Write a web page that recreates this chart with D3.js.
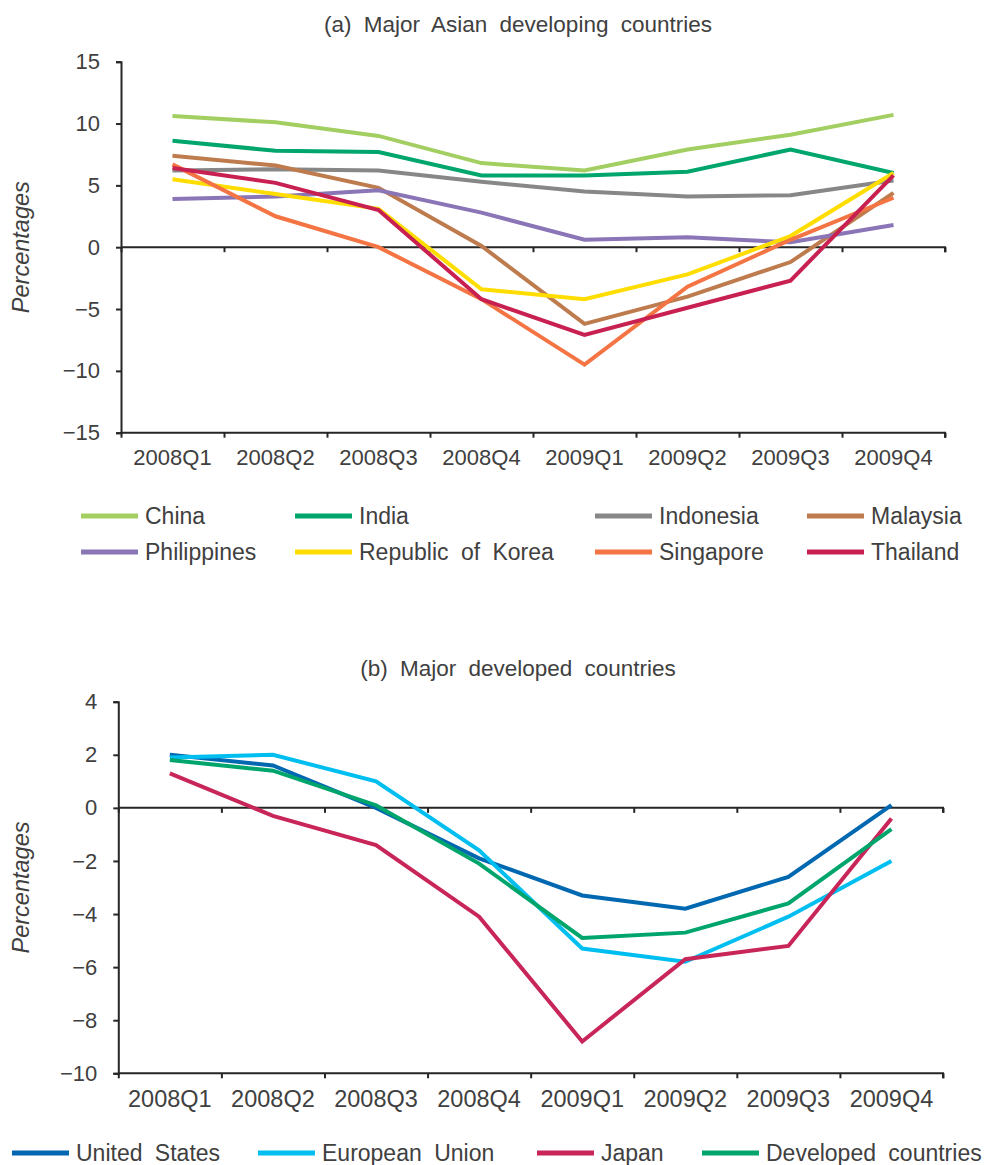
<!DOCTYPE html>
<html>
<head>
<meta charset="utf-8">
<script src="https://cdn.jsdelivr.net/npm/d3@7"></script>
<style>
  body { margin: 0; background: #fff; }
  text { font-family: "Liberation Sans", Arial, sans-serif; fill: #404040; }
</style>
</head>
<body>
<script>
const W = 990, H = 1165;

// categories
const quarters = ['2008Q1', '2008Q2', '2008Q3', '2008Q4', '2009Q1', '2009Q2', '2009Q3', '2009Q4'];

// (a) Asian developing countries, growth in %
const china       = [10.6, 10.1, 9.0, 6.8, 6.2, 7.9, 9.1, 10.7];
const india       = [8.6, 7.8, 7.7, 5.8, 5.8, 6.1, 7.9, 6.0];
const indonesia   = [6.2, 6.3, 6.2, 5.3, 4.5, 4.1, 4.2, 5.4];
const malaysia    = [7.4, 6.6, 4.8, 0.1, -6.2, -4.0, -1.2, 4.4];
const philippines = [3.9, 4.1, 4.6, 2.8, 0.6, 0.8, 0.4, 1.8];
const korea       = [5.5, 4.3, 3.1, -3.4, -4.2, -2.2, 0.9, 6.0];
const singapore   = [6.7, 2.5, 0.0, -4.2, -9.5, -3.2, 0.6, 4.0];
const thailand    = [6.4, 5.2, 3.0, -4.2, -7.1, -4.9, -2.7, 5.8];
const asiaTicks   = [-15, -10, -5, 0, 5, 10, 15];

// (b) developed countries, growth in %
const us        = [2.0, 1.6, 0.0, -1.9, -3.3, -3.8, -2.6, 0.1];
const eu        = [1.9, 2.0, 1.0, -1.6, -5.3, -5.8, -4.1, -2.0];
const japan     = [1.3, -0.3, -1.4, -4.1, -8.8, -5.7, -5.2, -0.4];
const developed = [1.8, 1.4, 0.1, -2.1, -4.9, -4.7, -3.6, -0.8];
const devTicks  = [-10, -8, -6, -4, -2, 0, 2, 4];

const svg = d3.select('body').append('svg')
    .attr('width', W)
    .attr('height', H);

function drawPanel(p) {
    const x = d3.scaleBand().domain(quarters).range([p.left, p.right]);
    const xEdge = d3.scaleLinear().domain([0, quarters.length]).range([p.left, p.right]);
    const y = d3.scaleLinear().domain(p.domain).range([p.bottom, p.top]);
    const g = svg.append('g');

    // title
    g.append('text')
        .attr('x', 518).attr('y', p.titleY)
        .attr('text-anchor', 'middle')
        .style('font-size', '22.5px')
        .style('word-spacing', '6px')
        .text(p.title);

    // y axis title
    g.append('text')
        .attr('transform', `translate(29,${(p.top + p.bottom) / 2}) rotate(-90)`)
        .attr('text-anchor', 'middle')
        .style('font-size', '23.5px')
        .style('font-style', 'italic')
        .text('Percentages');

    // y axis
    const ya = g.append('g')
        .attr('transform', `translate(${p.left},0)`)
        .call(d3.axisLeft(y).tickValues(p.ticks).tickSize(5).tickPadding(16));
    ya.selectAll('text').style('font-size', '22px').style('fill', '#404040')
        .style('font-family', '"Liberation Sans", Arial, sans-serif');

    // bottom axis + zero axis, ticks on category edges
    [p.domain[0], 0].forEach(v => {
        const xa = g.append('g')
            .attr('transform', `translate(0,${y(v)})`)
            .call(d3.axisBottom(xEdge).ticks(quarters.length).tickSize(5).tickFormat(''));
        xa.select('.domain').attr('d', `M${p.left},0H${p.right}V5`);
    });

    // category labels
    const lab = g.append('g')
        .attr('transform', `translate(0,${p.bottom})`)
        .call(d3.axisBottom(x).tickSize(0).tickPadding(17));
    lab.select('.domain').remove();
    lab.selectAll('text').style('font-size', p.catSize).style('fill', '#404040')
        .style('font-family', '"Liberation Sans", Arial, sans-serif');

    g.selectAll('.tick line, .domain').attr('stroke', '#262626').attr('stroke-width', 2);

    // series lines
    const line = d3.line()
        .x((d, i) => x(quarters[i]) + x.bandwidth() / 2)
        .y(d => y(d));

    p.series.forEach(s => {
        g.append('path')
            .attr('d', line(s.values))
            .attr('fill', 'none')
            .attr('stroke', s.color)
            .attr('stroke-width', 4);
    });

    // legend
    p.series.forEach((s, i) => {
        const lx = p.legendX[i % p.legendX.length];
        const ly = p.legendY[Math.floor(i / p.legendX.length)];
        g.append('line')
            .attr('x1', lx).attr('x2', lx + 57)
            .attr('y1', ly).attr('y2', ly)
            .attr('stroke', s.color)
            .attr('stroke-width', 5);
        g.append('text')
            .attr('x', lx + 64).attr('y', ly)
            .attr('dy', '0.36em')
            .style('font-size', '23px')
            .style('word-spacing', '6px')
            .text(s.name);
    });
}

drawPanel({
    title: '(a) Major Asian developing countries',
    titleY: 32,
    left: 121, right: 945, top: 61.7, bottom: 432.7,
    domain: [-15, 15], ticks: asiaTicks, catSize: '22px',
    legendX: [81, 295, 595, 807],
    legendY: [516, 552],
    series: [
        {name: 'China', values: china, color: '#a3cf62'},
        {name: 'India', values: india, color: '#00a66c'},
        {name: 'Indonesia', values: indonesia, color: '#878787'},
        {name: 'Malaysia', values: malaysia, color: '#bd7b4e'},
        {name: 'Philippines', values: philippines, color: '#8a75b6'},
        {name: 'Republic of Korea', values: korea, color: '#ffdd00'},
        {name: 'Singapore', values: singapore, color: '#f47443'},
        {name: 'Thailand', values: thailand, color: '#c82151'}
    ]
});

drawPanel({
    title: '(b) Major developed countries',
    titleY: 676,
    left: 118.3, right: 943, top: 701.7, bottom: 1073.3,
    domain: [-10, 4], ticks: devTicks, catSize: '23.5px',
    legendX: [12, 258, 537, 702],
    legendY: [1153],
    series: [
        {name: 'United States', values: us, color: '#0067b1'},
        {name: 'European Union', values: eu, color: '#00bff0'},
        {name: 'Japan', values: japan, color: '#c82559'},
        {name: 'Developed countries', values: developed, color: '#00a56c'}
    ]
});
</script>
</body>
</html>
